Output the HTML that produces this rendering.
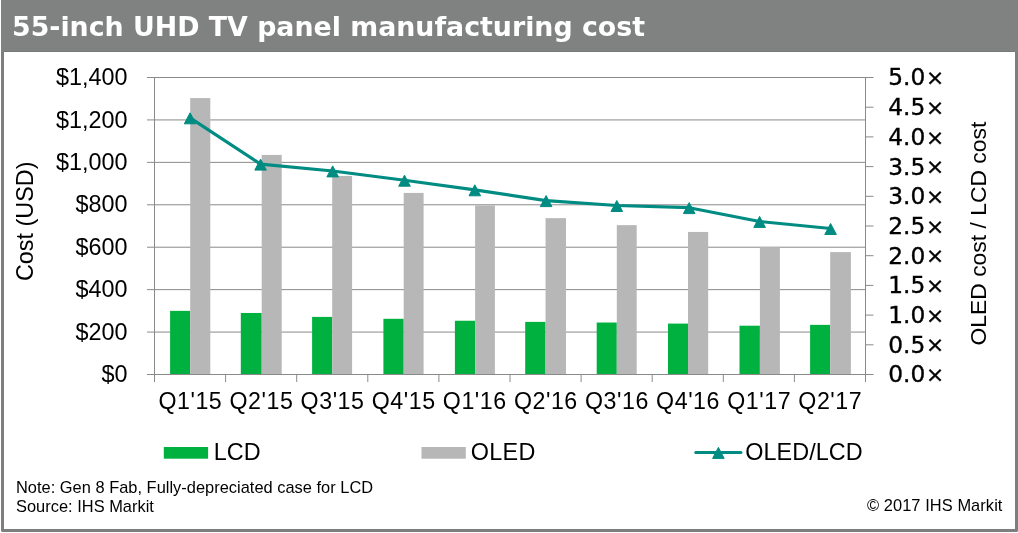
<!DOCTYPE html>
<html><head><meta charset="utf-8"><title>55-inch UHD TV panel manufacturing cost</title>
<style>
html,body{margin:0;padding:0;background:#fff;}
body{width:1018px;height:533px;position:relative;overflow:hidden;font-family:"Liberation Sans",Arial,sans-serif;}
#title{position:absolute;left:11.5px;top:9.1px;margin:0;font:bold 26px/36px "DejaVu Sans",Verdana,sans-serif;color:#fff;white-space:nowrap;transform:scaleX(1.031);transform-origin:0 0;}
.note{position:absolute;font-size:16.4px;line-height:19px;color:#000;white-space:nowrap;margin:0;}
</style></head><body>
<svg width="1018" height="533" viewBox="0 0 1018 533" style="position:absolute;left:0;top:0">
<path fill="#7d7f7e" fill-rule="evenodd" d="M1,0 H1018 V530.4 Q1018,531.9 1016.5,531.9 H2.5 Q1,531.9 1,530.4 Z M4,52 V528.9 H1015 V52 Z"/>
<rect x="1" y="0" width="1017" height="52" fill="#808281"/>
<rect x="4" y="51" width="1011" height="1" fill="#777978"/>
<g stroke="#8a8a8a" stroke-width="1">
<line x1="147.0" y1="332.07" x2="865.5" y2="332.07"/>
<line x1="147.0" y1="289.64" x2="865.5" y2="289.64"/>
<line x1="147.0" y1="247.21" x2="865.5" y2="247.21"/>
<line x1="147.0" y1="204.79" x2="865.5" y2="204.79"/>
<line x1="147.0" y1="162.36" x2="865.5" y2="162.36"/>
<line x1="147.0" y1="119.93" x2="865.5" y2="119.93"/>
<line x1="147.0" y1="77.50" x2="865.5" y2="77.50"/>
</g>
<rect x="170.10" y="310.86" width="20.10" height="63.64" fill="#00b140"/>
<rect x="190.20" y="98.08" width="20.10" height="276.42" fill="#b7b7b7"/>
<rect x="240.80" y="312.98" width="20.90" height="61.52" fill="#00b140"/>
<rect x="261.70" y="154.93" width="20.00" height="219.57" fill="#b7b7b7"/>
<rect x="312.10" y="316.90" width="20.10" height="57.60" fill="#00b140"/>
<rect x="332.20" y="175.93" width="19.90" height="198.57" fill="#b7b7b7"/>
<rect x="383.40" y="318.81" width="20.30" height="55.69" fill="#00b140"/>
<rect x="403.70" y="192.91" width="19.90" height="181.59" fill="#b7b7b7"/>
<rect x="454.90" y="320.74" width="20.20" height="53.76" fill="#00b140"/>
<rect x="475.10" y="205.42" width="19.80" height="169.08" fill="#b7b7b7"/>
<rect x="525.20" y="321.89" width="20.35" height="52.61" fill="#00b140"/>
<rect x="545.55" y="218.15" width="20.45" height="156.35" fill="#b7b7b7"/>
<rect x="596.70" y="322.52" width="20.10" height="51.98" fill="#00b140"/>
<rect x="616.80" y="225.15" width="19.90" height="149.35" fill="#b7b7b7"/>
<rect x="668.00" y="323.59" width="20.00" height="50.91" fill="#00b140"/>
<rect x="688.00" y="231.94" width="20.20" height="142.56" fill="#b7b7b7"/>
<rect x="739.50" y="325.71" width="20.40" height="48.79" fill="#00b140"/>
<rect x="759.90" y="247.21" width="20.00" height="127.29" fill="#b7b7b7"/>
<rect x="810.10" y="324.86" width="20.10" height="49.64" fill="#00b140"/>
<rect x="830.20" y="252.09" width="20.70" height="122.41" fill="#b7b7b7"/>
<g stroke="#8a8a8a" stroke-width="1">
<line x1="147.0" y1="374.5" x2="873.5" y2="374.5"/>
<line x1="154.5" y1="77.0" x2="154.5" y2="382.0"/>
<line x1="865.5" y1="77.0" x2="865.5" y2="382.0"/>
<line x1="225.60" y1="374.5" x2="225.60" y2="382.0"/>
<line x1="296.70" y1="374.5" x2="296.70" y2="382.0"/>
<line x1="367.80" y1="374.5" x2="367.80" y2="382.0"/>
<line x1="438.90" y1="374.5" x2="438.90" y2="382.0"/>
<line x1="510.00" y1="374.5" x2="510.00" y2="382.0"/>
<line x1="581.10" y1="374.5" x2="581.10" y2="382.0"/>
<line x1="652.20" y1="374.5" x2="652.20" y2="382.0"/>
<line x1="723.30" y1="374.5" x2="723.30" y2="382.0"/>
<line x1="794.40" y1="374.5" x2="794.40" y2="382.0"/>
<line x1="865.5" y1="344.80" x2="873.5" y2="344.80"/>
<line x1="865.5" y1="315.10" x2="873.5" y2="315.10"/>
<line x1="865.5" y1="285.40" x2="873.5" y2="285.40"/>
<line x1="865.5" y1="255.70" x2="873.5" y2="255.70"/>
<line x1="865.5" y1="226.00" x2="873.5" y2="226.00"/>
<line x1="865.5" y1="196.30" x2="873.5" y2="196.30"/>
<line x1="865.5" y1="166.60" x2="873.5" y2="166.60"/>
<line x1="865.5" y1="136.90" x2="873.5" y2="136.90"/>
<line x1="865.5" y1="107.20" x2="873.5" y2="107.20"/>
<line x1="865.5" y1="77.50" x2="873.5" y2="77.50"/>
</g>
<polyline points="190.10,117.85 260.60,164.15 332.70,170.95 404.50,180.25 474.80,189.85 546.10,200.65 616.80,205.55 689.20,207.65 759.60,221.45 830.60,228.55" fill="none" stroke="#008c82" stroke-width="3.1" stroke-linejoin="round" stroke-linecap="round"/>
<polygon points="190.10,112.80 195.90,123.80 184.30,123.80" fill="#008c82" stroke="#008c82" stroke-width="1" stroke-linejoin="round"/>
<polygon points="260.60,159.10 266.40,170.10 254.80,170.10" fill="#008c82" stroke="#008c82" stroke-width="1" stroke-linejoin="round"/>
<polygon points="332.70,165.90 338.50,176.90 326.90,176.90" fill="#008c82" stroke="#008c82" stroke-width="1" stroke-linejoin="round"/>
<polygon points="404.50,175.20 410.30,186.20 398.70,186.20" fill="#008c82" stroke="#008c82" stroke-width="1" stroke-linejoin="round"/>
<polygon points="474.80,184.80 480.60,195.80 469.00,195.80" fill="#008c82" stroke="#008c82" stroke-width="1" stroke-linejoin="round"/>
<polygon points="546.10,195.60 551.90,206.60 540.30,206.60" fill="#008c82" stroke="#008c82" stroke-width="1" stroke-linejoin="round"/>
<polygon points="616.80,200.50 622.60,211.50 611.00,211.50" fill="#008c82" stroke="#008c82" stroke-width="1" stroke-linejoin="round"/>
<polygon points="689.20,202.60 695.00,213.60 683.40,213.60" fill="#008c82" stroke="#008c82" stroke-width="1" stroke-linejoin="round"/>
<polygon points="759.60,216.40 765.40,227.40 753.80,227.40" fill="#008c82" stroke="#008c82" stroke-width="1" stroke-linejoin="round"/>
<polygon points="830.60,223.50 836.40,234.50 824.80,234.50" fill="#008c82" stroke="#008c82" stroke-width="1" stroke-linejoin="round"/>
<g font-family="'Liberation Sans', Arial, sans-serif" fill="#000">
<text x="127.50" y="382.10" text-anchor="end" font-size="23.4">$0</text>
<text x="127.50" y="339.67" text-anchor="end" font-size="23.4">$200</text>
<text x="127.50" y="297.24" text-anchor="end" font-size="23.4">$400</text>
<text x="127.50" y="254.81" text-anchor="end" font-size="23.4">$600</text>
<text x="127.50" y="212.39" text-anchor="end" font-size="23.4">$800</text>
<text x="127.50" y="169.96" text-anchor="end" font-size="23.4">$1,000</text>
<text x="127.50" y="127.53" text-anchor="end" font-size="23.4">$1,200</text>
<text x="127.50" y="85.10" text-anchor="end" font-size="23.4">$1,400</text>
<text x="190.35" y="408.80" text-anchor="middle" font-size="23.2" letter-spacing="0.55">Q1&#39;15</text>
<text x="261.45" y="408.80" text-anchor="middle" font-size="23.2" letter-spacing="0.55">Q2&#39;15</text>
<text x="332.55" y="408.80" text-anchor="middle" font-size="23.2" letter-spacing="0.55">Q3&#39;15</text>
<text x="403.65" y="408.80" text-anchor="middle" font-size="23.2" letter-spacing="0.55">Q4&#39;15</text>
<text x="474.75" y="408.80" text-anchor="middle" font-size="23.2" letter-spacing="0.55">Q1&#39;16</text>
<text x="545.85" y="408.80" text-anchor="middle" font-size="23.2" letter-spacing="0.55">Q2&#39;16</text>
<text x="616.95" y="408.80" text-anchor="middle" font-size="23.2" letter-spacing="0.55">Q3&#39;16</text>
<text x="688.05" y="408.80" text-anchor="middle" font-size="23.2" letter-spacing="0.55">Q4&#39;16</text>
<text x="759.15" y="408.80" text-anchor="middle" font-size="23.2" letter-spacing="0.55">Q1&#39;17</text>
<text x="830.25" y="408.80" text-anchor="middle" font-size="23.2" letter-spacing="0.55">Q2&#39;17</text>
<text transform="translate(33.40,221.30) rotate(-90)" text-anchor="middle" font-size="23.4">Cost (USD)</text>
<text transform="translate(986.20,233.60) rotate(-90)" text-anchor="middle" font-size="22.9">OLED cost / LCD cost</text>
<rect x="163.8" y="447" width="44.3" height="11.7" fill="#00b140"/>
<text x="213.80" y="459.70" text-anchor="start" font-size="23.4">LCD</text>
<rect x="421.5" y="447" width="44.3" height="11.7" fill="#b7b7b7"/>
<text x="470.80" y="459.70" text-anchor="start" font-size="23.4" letter-spacing="0.3">OLED</text>
<line x1="695.8" y1="452.5" x2="740.9" y2="452.5" stroke="#008c82" stroke-width="3.1" stroke-linecap="round"/>
<polygon points="718.40,447.40 724.20,458.40 712.60,458.40" fill="#008c82" stroke="#008c82" stroke-width="1" stroke-linejoin="round"/>
<text x="745.30" y="459.70" text-anchor="start" font-size="23.4" letter-spacing="0.05">OLED/LCD</text>
</g>
<g font-family="'DejaVu Sans', Verdana, sans-serif" fill="#000" stroke="#000" stroke-width="0.35">
<text transform="translate(888.3,382.40) scale(1.045,1)" font-size="22.3">0.0<tspan font-size="20.8" dx="0.6" dy="-0.3">×</tspan></text>
<text transform="translate(888.3,352.70) scale(1.045,1)" font-size="22.3">0.5<tspan font-size="20.8" dx="0.6" dy="-0.3">×</tspan></text>
<text transform="translate(888.3,323.00) scale(1.045,1)" font-size="22.3">1.0<tspan font-size="20.8" dx="0.6" dy="-0.3">×</tspan></text>
<text transform="translate(888.3,293.30) scale(1.045,1)" font-size="22.3">1.5<tspan font-size="20.8" dx="0.6" dy="-0.3">×</tspan></text>
<text transform="translate(888.3,263.60) scale(1.045,1)" font-size="22.3">2.0<tspan font-size="20.8" dx="0.6" dy="-0.3">×</tspan></text>
<text transform="translate(888.3,233.90) scale(1.045,1)" font-size="22.3">2.5<tspan font-size="20.8" dx="0.6" dy="-0.3">×</tspan></text>
<text transform="translate(888.3,204.20) scale(1.045,1)" font-size="22.3">3.0<tspan font-size="20.8" dx="0.6" dy="-0.3">×</tspan></text>
<text transform="translate(888.3,174.50) scale(1.045,1)" font-size="22.3">3.5<tspan font-size="20.8" dx="0.6" dy="-0.3">×</tspan></text>
<text transform="translate(888.3,144.80) scale(1.045,1)" font-size="22.3">4.0<tspan font-size="20.8" dx="0.6" dy="-0.3">×</tspan></text>
<text transform="translate(888.3,115.10) scale(1.045,1)" font-size="22.3">4.5<tspan font-size="20.8" dx="0.6" dy="-0.3">×</tspan></text>
<text transform="translate(888.3,85.40) scale(1.045,1)" font-size="22.3">5.0<tspan font-size="20.8" dx="0.6" dy="-0.3">×</tspan></text>
</g>
</svg>
<h1 id="title">55-inch UHD TV panel manufacturing cost</h1>
<p class="note" style="left:16px;top:478.3px;letter-spacing:0.02px">Note: Gen 8 Fab, Fully-depreciated case for LCD<br>Source: IHS Markit</p>
<p class="note" style="right:15.5px;top:495.6px;letter-spacing:0.08px">© 2017 IHS Markit</p>
</body></html>
